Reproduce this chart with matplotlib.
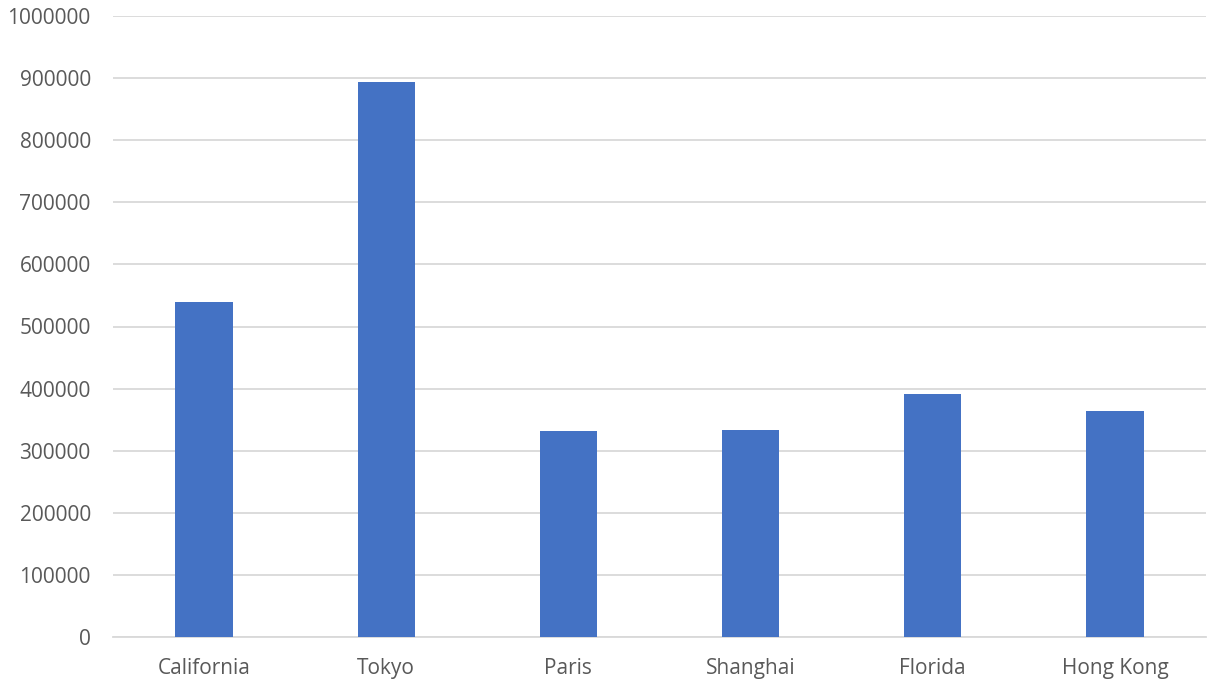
import matplotlib
matplotlib.use('Agg')
import matplotlib.pyplot as plt

# valeurs
villes = ['California', 'Tokyo', 'Paris', 'Shanghai', 'Florida', 'Hong Kong']
valeurs = [540000, 893500, 331500, 333500, 391500, 363500]
graduations = list(range(0, 1000001, 100000))

plt.rcParams['font.family'] = ['Open Sans', 'DejaVu Sans']

fig = plt.figure(figsize=(12.07, 6.88), dpi=100)
ax = fig.add_axes([113/1207, 51/688, 1093/1207, 621/688])

x = range(len(villes))
ax.bar(x, valeurs, width=0.315, color='#4472C4', zorder=3)

ax.set_xlim(-0.5, len(villes) - 0.5)
ax.set_ylim(0, 1000000)
ax.set_yticks(graduations)
ax.set_yticklabels([str(g) for g in graduations])
ax.set_xticks(list(x))
ax.set_xticklabels(villes)

ax.grid(axis='y', color='#D9D9D9', linewidth=1.3, zorder=0)
for s in ['top', 'right', 'left']:
    ax.spines[s].set_visible(False)
ax.spines['bottom'].set_color('#D9D9D9')
ax.spines['bottom'].set_linewidth(1.3)
ax.tick_params(axis='both', length=0, labelcolor='#595959', labelsize=15)
ax.tick_params(axis='y', pad=16)
ax.tick_params(axis='x', pad=15)

fig.savefig('out.png', dpi=100)
